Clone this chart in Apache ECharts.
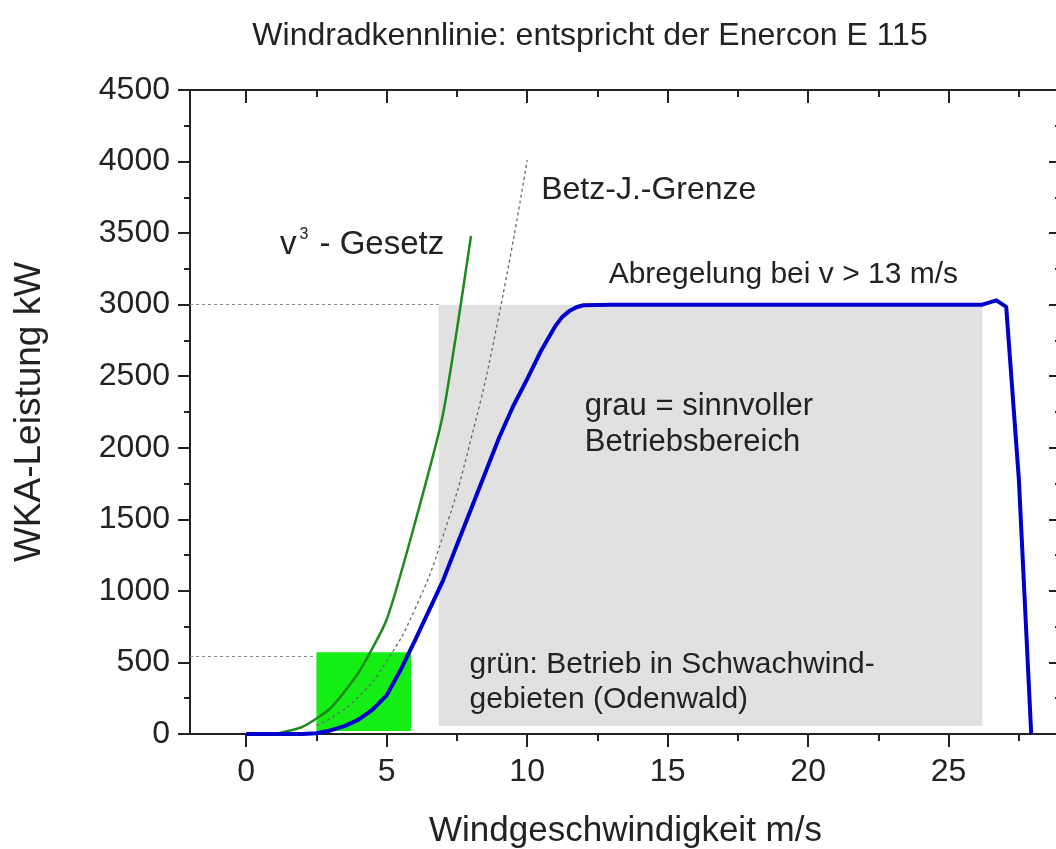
<!DOCTYPE html>
<html>
<head>
<meta charset="utf-8">
<title>Windradkennlinie</title>
<script src="https://cdn.jsdelivr.net/npm/echarts@6/dist/echarts.min.js"></script>
<style>
  html, body { margin: 0; padding: 0; background: #fff; }
  #main { width: 1056px; height: 849px; }
</style>
</head>
<body>
<div id="main"></div>
<script>
// Kennlinie E 115
var enerconV = [0, 1, 2, 2.5, 3, 3.5, 4, 4.5, 5, 5.5, 6, 6.5, 7, 7.5, 8, 8.5, 9, 9.5, 10, 10.5, 11, 11.25, 11.5, 11.75, 12, 13, 26.2, 26.7, 27.05, 27.5, 27.94];
var enerconP = [0, 0, 0, 5, 25, 55, 100, 170, 270, 450, 650, 860, 1070, 1320, 1570, 1820, 2070, 2290, 2480, 2680, 2850, 2915, 2955, 2982, 2996, 3000, 3000, 3030, 2985, 1780, 0];

// v^3 - Gesetz
var cubeV = [1, 2, 3, 4, 5, 6, 7, 8];
var cubeP = [0, 50, 180, 430, 800, 1470, 2230, 3480];

// Betz-Grenze
var betzV = [2.5, 3, 4, 5, 6, 7, 8, 9, 10];
var betzP = [60, 110, 260, 510, 870, 1380, 2060, 2930, 4010];

// Bereiche
var grayArea = [[6.85, 56], [26.2, 3000]];
var greenArea = [[2.5, 21], [5.87, 571]];
var refLines = [[[-2, 3000], [6.85, 3000]], [[-2, 545], [2.5, 545]]];

var xMajor = [0, 5, 10, 15, 20, 25];
var xMinor = [2.5, 7.5, 12.5, 17.5, 22.5, 27.5];

// Beschriftungen im Diagramm [x, y, text, Schriftgröße]
var notes = [
  [10.5, 3800, 'Betz-J.-Grenze', 32],
  [12.9, 3207, 'Abregelung bei v > 13 m/s', 30],
  [12.05, 2292, 'grau = sinnvoller', 31],
  [12.05, 2040, 'Betriebsbereich', 31],
  [7.95, 482, 'grün: Betrieb in Schwachwind-', 30],
  [7.95, 238, 'gebieten (Odenwald)', 30]
];
var cubeNote = [1.2, 3417];

function pairs(xs, ys) {
  var out = [];
  for (var i = 0; i < xs.length; i++) out.push([xs[i], ys[i]]);
  return out;
}

var FONT = 'Liberation Sans, Arial, sans-serif';
var axisCol = '#222';

function xAx(pos, ticks, len, inside, showLine, extra) {
  var a = {
    type: 'value', position: pos, min: -2, max: 29, gridIndex: 0,
    axisLine: { show: showLine, onZero: false, lineStyle: { color: axisCol, width: 2 } },
    axisTick: { show: true, customValues: ticks, length: len, inside: inside, lineStyle: { color: axisCol, width: 2 } },
    axisLabel: { show: false },
    splitLine: { show: false }
  };
  for (var k in extra) a[k] = extra[k];
  return a;
}

function yAx(pos, inside, showLabel, extra) {
  var a = {
    type: 'value', position: pos, min: 0, max: 4500, interval: 500,
    axisLine: { show: true, onZero: false, lineStyle: { color: axisCol, width: 2 } },
    axisTick: { show: true, length: 12, inside: inside, lineStyle: { color: axisCol, width: 2 } },
    minorTick: { show: true, splitNumber: 2, length: 6, lineStyle: { color: axisCol, width: 2 } },
    axisLabel: {
      show: showLabel, fontFamily: FONT, fontSize: 32, color: axisCol, margin: 20,
      formatter: function (v) { return String(v); }
    },
    splitLine: { show: false }
  };
  for (var k in extra) a[k] = extra[k];
  return a;
}

var option = {
  backgroundColor: '#fff',
  animation: false,
  title: {
    text: 'Windradkennlinie: entspricht der Enercon E 115',
    left: 585, top: 15, textAlign: 'center',
    textStyle: { fontFamily: FONT, fontSize: 32, fontWeight: 'normal', color: axisCol }
  },
  grid: { left: 190, top: 90, right: -5, bottom: 115, outerBoundsMode: 'none', containLabel: false },
  xAxis: [
    xAx('bottom', xMajor, 13, false, true, {
      axisLabel: {
        show: true, customValues: xMajor, fontFamily: FONT, fontSize: 32, color: axisCol, margin: 22,
        formatter: function (v) { return String(v); }
      },
      name: 'Windgeschwindigkeit m/s', nameLocation: 'middle', nameGap: 80,
      nameTextStyle: { fontFamily: FONT, fontSize: 35, color: axisCol }
    }),
    xAx('bottom', xMinor, 7, false, false, {}),
    xAx('top', xMajor, 13, true, true, {}),
    xAx('top', xMinor, 7, true, false, {})
  ],
  yAxis: [
    yAx('left', false, true, {
      name: 'WKA-Leistung kW', nameLocation: 'middle', nameGap: 142,
      nameTextStyle: { fontFamily: FONT, fontSize: 37, color: axisCol }
    }),
    yAx('right', true, false, {})
  ],
  series: [
    {
      type: 'line', data: [], silent: true, z: 1,
      markArea: {
        silent: true,
        data: [
          [{ coord: grayArea[0], itemStyle: { color: '#e1e1e1' } }, { coord: grayArea[1] }],
          [{ coord: greenArea[0], itemStyle: { color: '#14ee14' } }, { coord: greenArea[1] }]
        ]
      },
      markLine: {
        silent: true, symbol: 'none', label: { show: false },
        lineStyle: { color: '#888', width: 1.2, type: [3, 3] },
        data: refLines.map(function (l) { return [{ coord: l[0] }, { coord: l[1] }]; })
      }
    },
    {
      name: 'Betz', type: 'line', data: pairs(betzV, betzP), smooth: true, symbol: 'none', z: 3,
      lineStyle: { color: '#666', width: 1.3, type: [3, 3] }
    },
    {
      name: 'v3', type: 'line', data: pairs(cubeV, cubeP), smooth: 0.2, symbol: 'none', z: 4,
      lineStyle: { color: '#1d8a1d', width: 2.5 }
    },
    {
      name: 'E115', type: 'line', data: pairs(enerconV, enerconP), symbol: 'none', z: 5,
      lineStyle: { color: '#0000cc', width: 4, join: 'round' }
    }
  ]
};

var chart = echarts.init(document.getElementById('main'));
chart.setOption(option);

// Texte an Datenkoordinaten setzen
var graphics = notes.map(function (n) {
  var p = chart.convertToPixel({ gridIndex: 0 }, [n[0], n[1]]);
  return {
    type: 'text', x: p[0], y: p[1], z: 10,
    style: { text: n[2], font: n[3] + 'px ' + FONT, fill: axisCol, verticalAlign: 'middle' }
  };
});
var cp = chart.convertToPixel({ gridIndex: 0 }, cubeNote);
graphics.push({
  type: 'text', x: cp[0], y: cp[1], z: 10,
  style: {
    text: '{v|v}{s|3}{t| - Gesetz}', verticalAlign: 'middle',
    rich: {
      v: { fontFamily: FONT, fontSize: 33, fill: axisCol, color: axisCol },
      s: { fontFamily: FONT, fontSize: 16, fill: axisCol, color: axisCol, verticalAlign: 'top', padding: [0, 2, 20, 3] },
      t: { fontFamily: FONT, fontSize: 33, fill: axisCol, color: axisCol }
    }
  }
});
chart.setOption({ graphic: graphics });
</script>
</body>
</html>
